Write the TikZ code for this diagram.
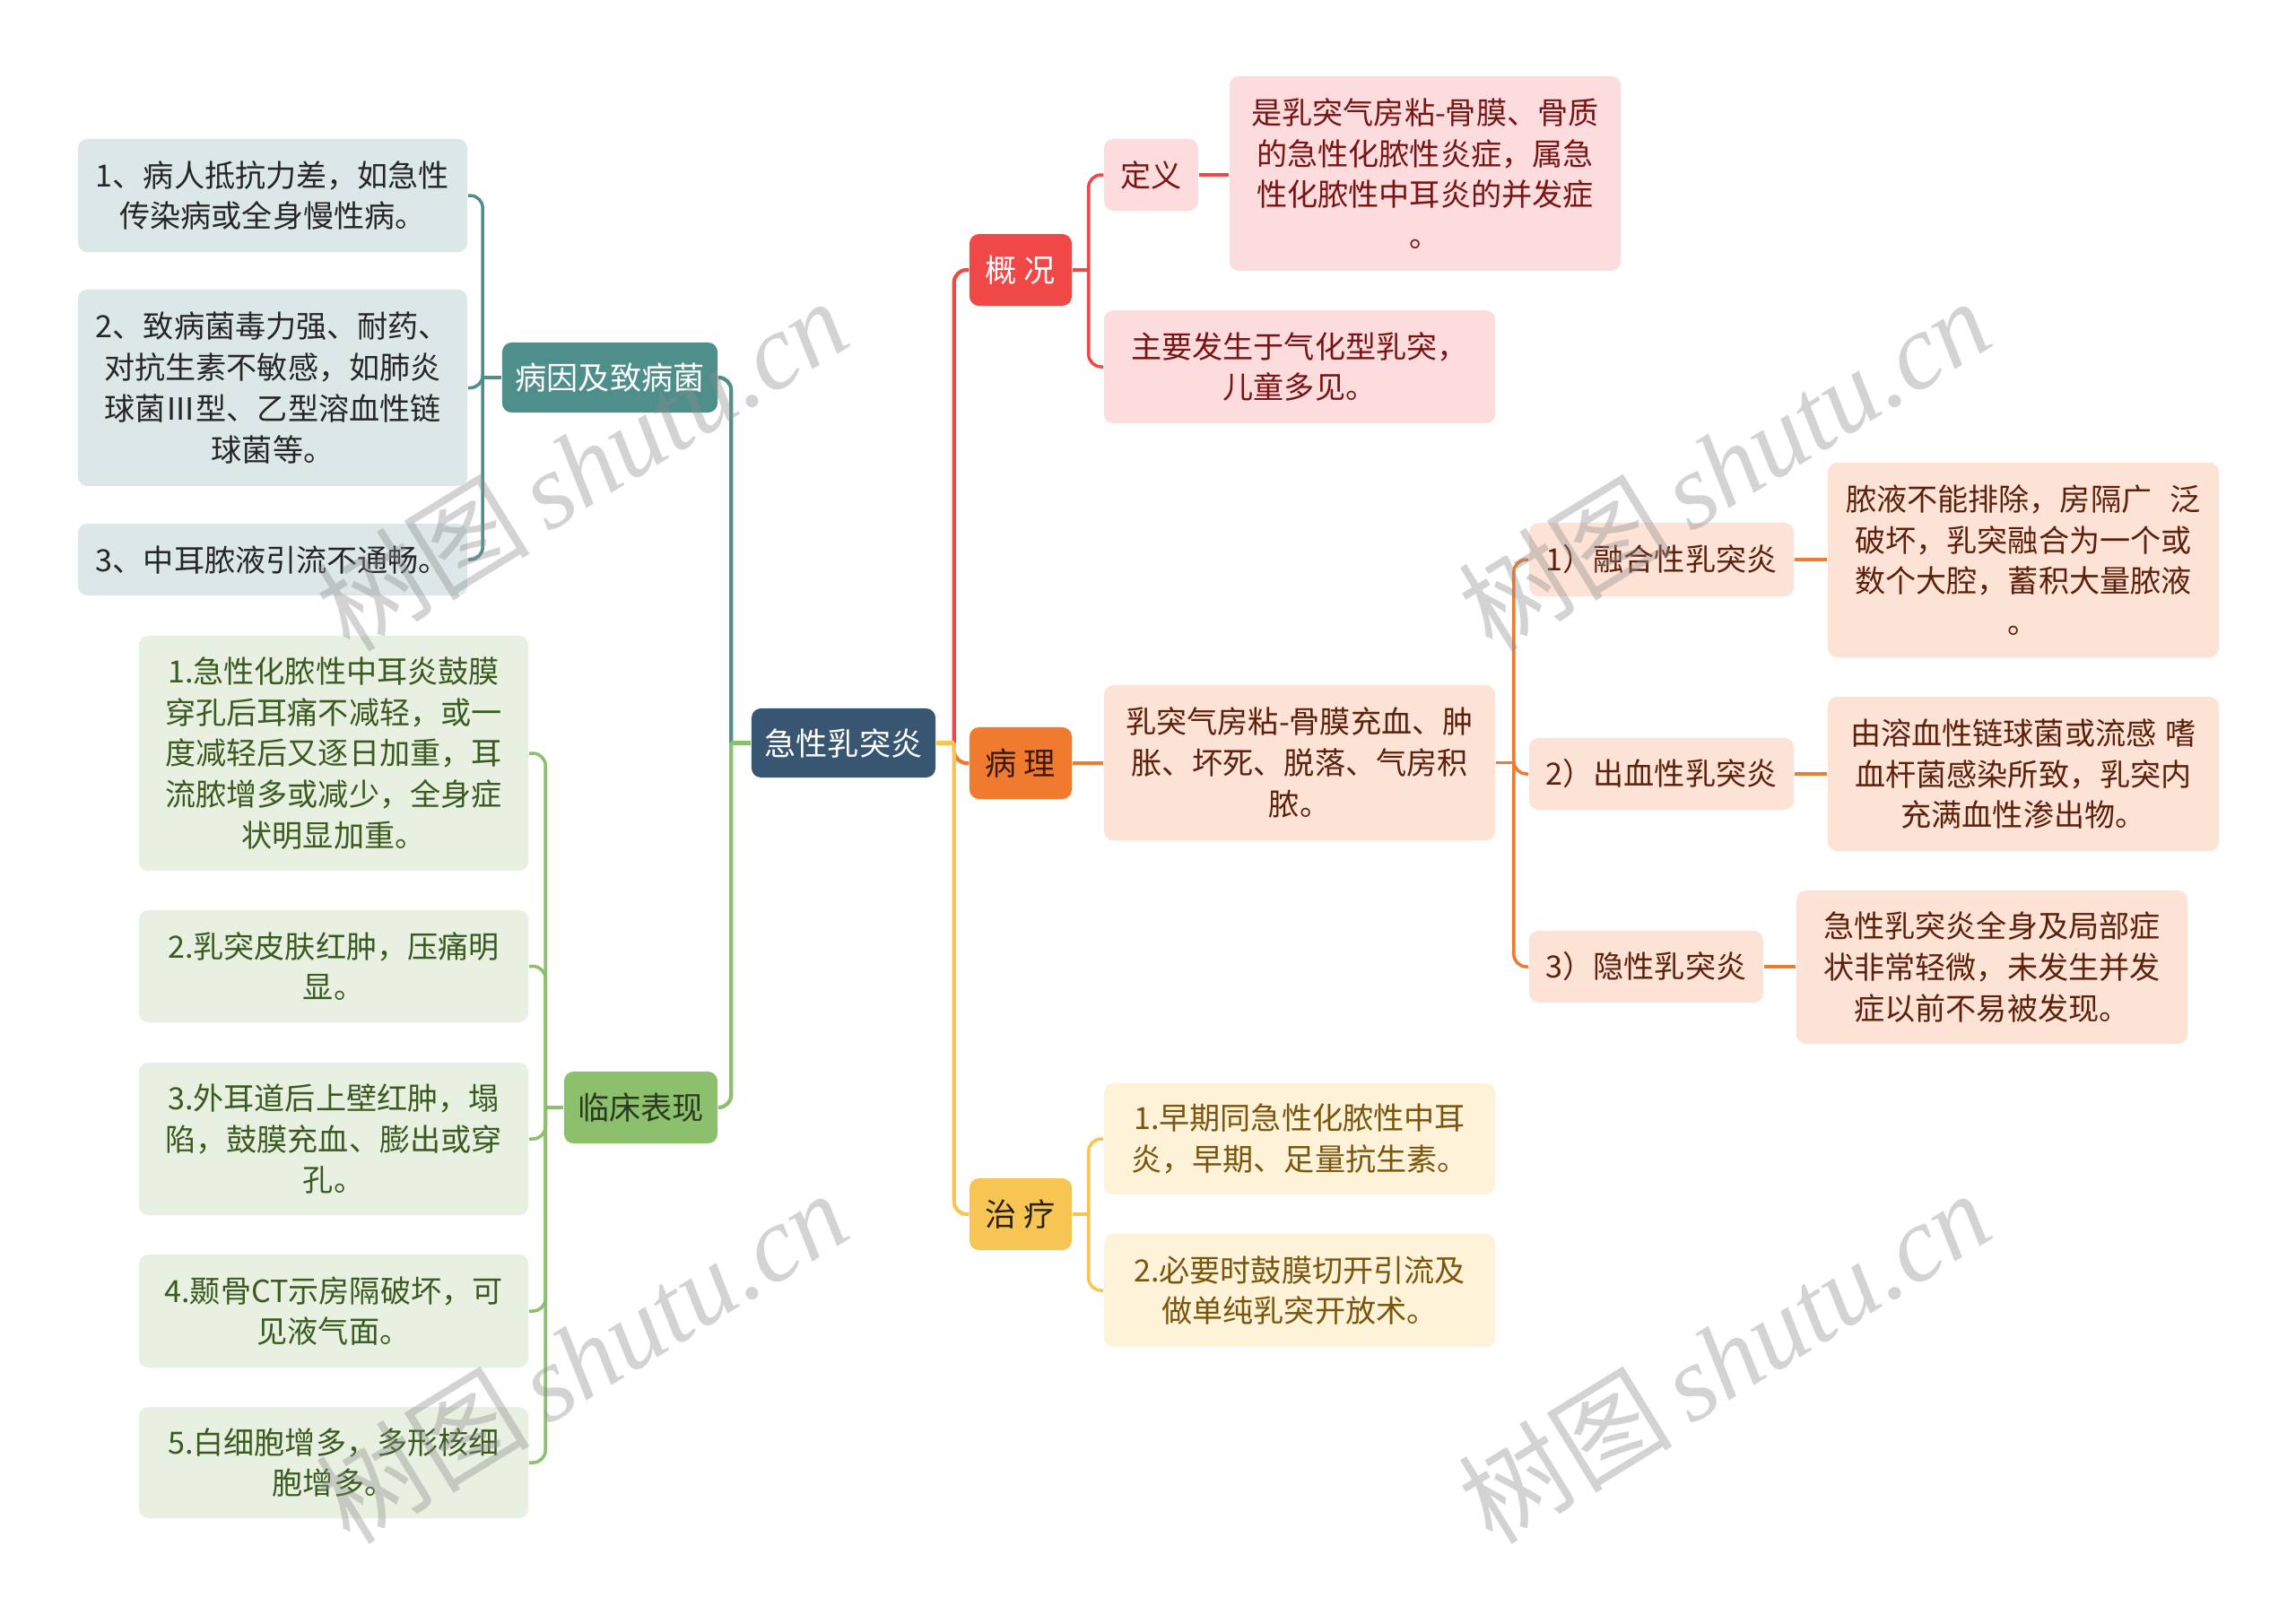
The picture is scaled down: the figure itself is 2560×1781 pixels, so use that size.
\documentclass[tikz,border=0pt]{standalone}
\usepackage{fontspec}
\setmainfont{Noto Sans CJK SC}
\newfontfamily\wmserif{Liberation Serif}
\usetikzlibrary{positioning, calc}
\definecolor{rootSlate}{HTML}{385572}
\definecolor{causeTeal}{HTML}{4F8F8B}
\definecolor{causeTint}{HTML}{DCE8E7}
\definecolor{causeInk}{HTML}{262626}
\definecolor{clinGreen}{HTML}{8CC06C}
\definecolor{clinTint}{HTML}{E8F1E1}
\definecolor{clinInk}{HTML}{3A5A1F}
\definecolor{clinDark}{HTML}{2A3A1E}
\definecolor{overRed}{HTML}{F04747}
\definecolor{overTint}{HTML}{FCDCDC}
\definecolor{overInk}{HTML}{7A1414}
\definecolor{pathOrange}{HTML}{F07A2D}
\definecolor{pathTint}{HTML}{FCE3D5}
\definecolor{pathInk}{HTML}{5C200C}
\definecolor{pathDark}{HTML}{3A1A0A}
\definecolor{treatYellow}{HTML}{F7C553}
\definecolor{treatTint}{HTML}{FEF3D9}
\definecolor{treatInk}{HTML}{7A560D}
\definecolor{treatDark}{HTML}{2A2010}

\begin{document}
\begin{tikzpicture}[
  x=0.01cm, y=-0.01cm,
  every node/.style={font=\fontsize{9.7}{13}\selectfont, align=center, inner sep=0pt},
  boxsize/.style 2 args={minimum width=#1cm, minimum height=#2cm},
  topic/.style={
    rounded corners=3pt, fill=#1, text=white,
    font=\fontsize{10}{13}\selectfont
  },
  leaf/.style={rounded corners=3pt, fill=#1},
  link/.style={draw=#1, line width=1.2pt, rounded corners=4pt},
  sublink/.style={draw=#1, line width=1pt, rounded corners=4pt},
]
\useasboundingbox (0,0) rectangle (2560,1781);

% === ROOT ===
\node[topic=rootSlate, boxsize={2.05}{0.77}] (root) at (940.5,828.5) {急性乳突炎};

% === LEFT SIDE: CAUSES ===
\node[topic=causeTeal, boxsize={2.40}{0.78}] (cause) at (680,421) {病因及致病菌};
\node[leaf=causeTint, text=causeInk, boxsize={4.34}{1.26}] (c1) at (304,218)
  {1、病人抵抗力差，如急性\\传染病或全身慢性病。};
\node[leaf=causeTint, text=causeInk, boxsize={4.34}{2.19}] (c2) at (304,432.5)
  {2、致病菌毒力强、耐药、\\对抗生素不敏感，如肺炎\\球菌Ⅲ型、乙型溶血性链\\球菌等。};
\node[leaf=causeTint, text=causeInk, boxsize={4.34}{0.80}] (c3) at (304,624)
  {3、中耳脓液引流不通畅。};

% === LEFT SIDE: CLINICAL SIGNS ===
\node[topic=clinGreen, text=clinDark, boxsize={1.71}{0.80}] (clin) at (714.5,1235) {临床表现};
\node[leaf=clinTint, text=clinInk, boxsize={4.34}{2.62}] (k1) at (372,840)
  {1.急性化脓性中耳炎鼓膜\\穿孔后耳痛不减轻，或一\\度减轻后又逐日加重，耳\\流脓增多或减少，全身症\\状明显加重。};
\node[leaf=clinTint, text=clinInk, boxsize={4.34}{1.25}] (k2) at (372,1077.5)
  {2.乳突皮肤红肿，压痛明\\显。};
\node[leaf=clinTint, text=clinInk, boxsize={4.34}{1.70}] (k3) at (372,1270)
  {3.外耳道后上壁红肿，塌\\陷，鼓膜充血、膨出或穿\\孔。};
\node[leaf=clinTint, text=clinInk, boxsize={4.34}{1.26}] (k4) at (372,1462)
  {4.颞骨CT示房隔破坏，可\\见液气面。};
\node[leaf=clinTint, text=clinInk, boxsize={4.34}{1.24}] (k5) at (372,1631)
  {5.白细胞增多，多形核细\\胞增多。};

% === RIGHT SIDE: OVERVIEW ===
\node[topic=overRed, boxsize={1.14}{0.80}] (over) at (1138,301) {概\ 况};
\node[leaf=overTint, text=overInk, boxsize={1.05}{0.80}] (defn) at (1283.5,195) {定义};
\node[leaf=overTint, text=overInk, boxsize={4.36}{2.17}] (deftext) at (1589,193.5)
  {是乳突气房粘-骨膜、骨质\\的急性化脓性炎症，属急\\性化脓性中耳炎的并发症\\。};
\node[leaf=overTint, text=overInk, boxsize={4.36}{1.26}] (occur) at (1449,409)
  {主要发生于气化型乳突，\\儿童多见。};

% === RIGHT SIDE: PATHOLOGY ===
\node[topic=pathOrange, text=pathDark, boxsize={1.14}{0.80}] (path) at (1138,851) {病\ 理};
\node[leaf=pathTint, text=pathInk, boxsize={4.36}{1.73}] (pathtext) at (1449,850.5)
  {乳突气房粘-骨膜充血、肿\\胀、坏死、脱落、气房积\\脓。};
\node[leaf=pathTint, text=pathInk, boxsize={2.95}{0.82}] (s1) at (1852.5,624) {1）融合性乳突炎};
\node[leaf=pathTint, text=pathInk, boxsize={4.36}{2.17}] (s1t) at (2256,624.5)
  {脓液不能排除，房隔广\hspace{0.6em}泛\\破坏，乳突融合为一个或\\数个大腔，蓄积大量脓液\\。};
\node[leaf=pathTint, text=pathInk, boxsize={2.95}{0.80}] (s2) at (1852.5,863) {2）出血性乳突炎};
\node[leaf=pathTint, text=pathInk, boxsize={4.36}{1.72}] (s2t) at (2256,863)
  {由溶血性链球菌或流感\hspace{0.3em}嗜\\血杆菌感染所致，乳突内\\充满血性渗出物。};
\node[leaf=pathTint, text=pathInk, boxsize={2.61}{0.80}] (s3) at (1835.5,1078) {3）隐性乳突炎};
\node[leaf=pathTint, text=pathInk, boxsize={4.36}{1.71}] (s3t) at (2221,1078.5)
  {急性乳突炎全身及局部症\\状非常轻微，未发生并发\\症以前不易被发现。};

% === RIGHT SIDE: TREATMENT ===
\node[topic=treatYellow, text=treatDark, boxsize={1.14}{0.80}] (treat) at (1138,1354) {治\ 疗};
\node[leaf=treatTint, text=treatInk, boxsize={4.36}{1.24}] (t1) at (1449,1270)
  {1.早期同急性化脓性中耳\\炎，早期、足量抗生素。};
\node[leaf=treatTint, text=treatInk, boxsize={4.36}{1.26}] (t2) at (1449,1439)
  {2.必要时鼓膜切开引流及\\做单纯乳突开放术。};

% === CONNECTORS ===
\coordinate (ltrunk) at ($(root.west)+(-22,0)$);
\coordinate (rtrunk) at ($(root.east)+(20,0)$);
\draw[link=causeTeal] (ltrunk) |- (cause.east);
\draw[link=clinGreen] (root.west) -- (ltrunk);
\draw[link=clinGreen] (ltrunk) |- (clin.east);
\draw[link=overRed] (rtrunk) |- (over.west);
\draw[link=pathOrange] (rtrunk) |- (path.west);
\draw[link=treatYellow] (root.east) -- (rtrunk);
\draw[link=treatYellow] (rtrunk) |- (treat.west);

% causes
\coordinate (ctrunk) at ($(cause.west)+(-21,0)$);
\draw[sublink=causeTeal] (cause.west) -- (ctrunk);
\foreach \n in {c1,c2,c3} {
  \draw[sublink=causeTeal] (ctrunk) |- (\n.east);
}

% clinical signs
\coordinate (ktrunk) at ($(clin.west)+(-20,0)$);
\draw[sublink=clinGreen] (clin.west) -- (ktrunk);
\foreach \n in {k1,k2,k3,k4,k5} {
  \draw[sublink=clinGreen] (ktrunk) |- (\n.east);
}

% overview
\coordinate (otrunk) at ($(over.east)+(18,0)$);
\draw[sublink=overRed] (over.east) -- (otrunk);
\foreach \n in {defn,occur} {
  \draw[sublink=overRed] (otrunk) |- (\n.west);
}
\draw[sublink=overRed] (defn.east) -- (defn.east -| deftext.west);

% pathology
\draw[sublink=pathOrange] (path.east) -- (path.east -| pathtext.west);
\coordinate (ptrunk) at ($(pathtext.east)+(20,0)$);
\draw[sublink=pathOrange] (pathtext.east) -- (ptrunk);
\foreach \n in {s1,s2,s3} {
  \draw[sublink=pathOrange] (ptrunk) |- (\n.west);
  \draw[sublink=pathOrange] (\n.east) -- (\n.east -| \n t.west);
}

% treatment
\coordinate (ttrunk) at ($(treat.east)+(18,0)$);
\draw[sublink=treatYellow] (treat.east) -- (ttrunk);
\foreach \n in {t1,t2} {
  \draw[sublink=treatYellow] (ttrunk) |- (\n.west);
}

% === WATERMARKS ===
\foreach \wx/\wy [count=\i] in {648/518, 648/1513, 1922/518, 1922/1513} {
  \node[rotate=31.6, text=black!45, text opacity=0.38, font=\fontsize{34}{34}\selectfont]
    (wm\i) at (\wx,\wy) {树图\,{\wmserif\itshape shutu.cn}};
}

\end{tikzpicture}
\end{document}
